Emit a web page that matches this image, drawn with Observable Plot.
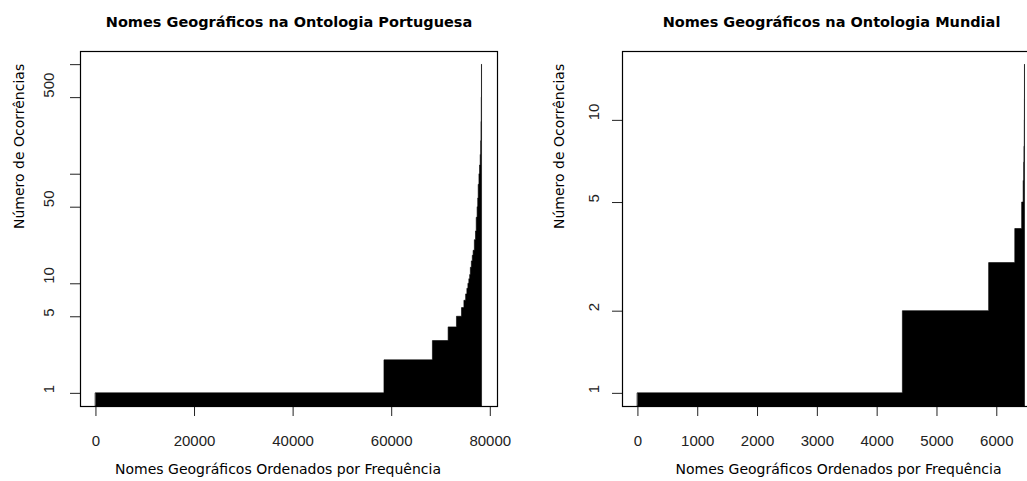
<!DOCTYPE html>
<html>
<head>
<meta charset="utf-8">
<script src="https://cdn.jsdelivr.net/npm/d3@7"></script>
<script src="https://cdn.jsdelivr.net/npm/@observablehq/plot@0.6"></script>
<style>
  html, body { margin: 0; padding: 0; background: #fff; overflow: hidden; }
  #wrap { position: relative; width: 1027px; height: 481px; overflow: hidden; background: #fff; }
  #left, #right { position: absolute; top: 0; height: 481px; }
  #left { left: 0; width: 513px; }
  #right { left: 513px; width: 540px; }
  #wrap svg { max-width: none !important; display: block; }
</style>
</head>
<body>
<div id="wrap"><div id="left"></div><div id="right"></div></div>
<script>
// ---- Data: occurrence value and how many names have it ----
const ptTitle = "Nomes Geográficos na Ontologia Portuguesa";
const ptValues = [1, 2, 3, 4, 5, 6, 7, 8, 9, 10, 11, 12, 14, 16, 18, 20, 25, 30, 40, 50, 60, 80, 100, 120, 150, 200, 300, 500, 1000];
const ptCounts = [58530, 9830, 3190, 1690, 1020, 490, 350, 250, 210, 190, 170, 140, 200, 190, 170, 250, 230, 150, 180, 120, 100, 150, 120, 130, 90, 70, 60, 40, 20];
const ptXTicks = [0, 20000, 40000, 60000, 80000];
const ptYTicks = [1, 5, 10, 50, 100, 500, 1000];
const ptYLabels = [1, 5, 10, 50, 500];

const mwTitle = "Nomes Geográficos na Ontologia Mundial";
const mwValues = [1, 2, 3, 4, 5, 6, 7, 8, 10, 12, 16];
const mwCounts = [4430, 1442, 437, 115, 25, 8, 5, 6, 2, 1, 1];
const mwXTicks = [0, 1000, 2000, 3000, 4000, 5000, 6000];
const mwYTicks = [1, 2, 5, 10];
const mwYLabels = [1, 2, 5, 10];

const xTitle = "Nomes Geográficos Ordenados por Frequência";
const yTitle = "Número de Ocorrências";

// step points: each run starts at its first rank; a closing point ends the last run
function steps(values, counts) {
  let c = 0;
  const pts = values.map((v, i) => {
    const p = {x: c, v};
    c += counts[i];
    return p;
  });
  pts.push({x: c, v: values[values.length - 1]});
  return pts;
}

function panel(el, {title, values, counts, xTicks, yTicks, yLabels, width, marginLeft, marginRight, yTitleDx, yLabDx, xTitleDx}) {
  const pts = steps(values, counts);
  const N = pts[pts.length - 1].x;
  const maxV = d3.max(values);
  const L = Math.log10(maxV);
  const xPad = 0.04 * (N - 1);
  const lo = Math.pow(10, -0.04 * L), hi = Math.pow(10, 1.04 * L);
  const tickFont = "Liberation Sans";
  const plot = Plot.plot({
    width, height: 481,
    marginLeft, marginRight, marginTop: 51, marginBottom: 75,
    style: {fontFamily: "DejaVu Sans", background: "white", overflow: "visible", maxWidth: "none"},
    x: {domain: [1 - xPad, N + xPad]},
    y: {type: "log", domain: [lo, hi]},
    marks: [
      Plot.areaY(pts, {x: "x", y1: lo, y2: "v", curve: "step-after", fill: "black", stroke: "black", strokeWidth: 0.6}),
      Plot.axisX({ticks: xTicks, tickSize: 10, tickFormat: () => "", label: null, stroke: "#222"}),
      Plot.axisY({ticks: yTicks, tickSize: 10, tickFormat: () => "", label: null, stroke: "#222"}),
      Plot.text(xTicks, {x: d => d, text: d => String(d), frameAnchor: "bottom", dy: 35, lineAnchor: "middle", fontSize: 15, fontFamily: tickFont, fill: "#222"}),
      Plot.text(yLabels, {y: d => d, text: d => String(d), frameAnchor: "left", dx: yLabDx, rotate: -90, lineAnchor: "middle", fontSize: 15, fontFamily: tickFont, fill: "#222"}),
      Plot.text([title], {text: d => d, frameAnchor: "top", dy: -29.5, lineAnchor: "middle", fontSize: 14.5, fontWeight: "bold", fill: "black"}),
      Plot.text([xTitle], {text: d => d, frameAnchor: "bottom", dx: xTitleDx, dy: 63, lineAnchor: "middle", fontSize: 14, fill: "black"}),
      Plot.text([yTitle], {text: d => d, frameAnchor: "left", dx: yTitleDx, rotate: -90, lineAnchor: "middle", fontSize: 14, fill: "black"}),
      Plot.frame({stroke: "black", strokeWidth: 1.2})
    ]
  });
  el.appendChild(plot);
}

panel(document.getElementById("left"), {
  title: ptTitle, values: ptValues, counts: ptCounts, xTicks: ptXTicks, yTicks: ptYTicks, yLabels: ptYLabels,
  width: 513, marginLeft: 80, marginRight: 16, yTitleDx: -61, yLabDx: -31, xTitleDx: -11
});
panel(document.getElementById("right"), {
  title: mwTitle, values: mwValues, counts: mwCounts, xTicks: mwXTicks, yTicks: mwYTicks, yLabels: mwYLabels,
  width: 540, marginLeft: 109, marginRight: 13, yTitleDx: -63, yLabDx: -28, xTitleDx: 7
});
</script>
</body>
</html>
